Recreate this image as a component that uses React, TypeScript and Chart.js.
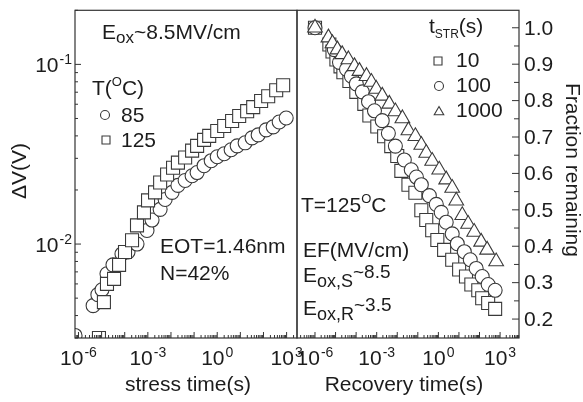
import React, { useEffect, useRef } from 'react';
import { Chart, registerables } from 'chart.js';

Chart.register(...registerables);

const W = 583;
const H = 402;
const FONT = '"Liberation Sans", Arial, Helvetica, sans-serif';
const INK = '#1c1c1c';
const MARK = '#3a3a3a';

// ---- Left panel: stress time (s) vs ΔV (V) ----
const stressTime85 = [7.1e-7, 4.3e-6, 6.9e-6, 1.04e-5, 1.71e-5, 3.1e-5, 7.6e-5, 1.39e-4, 3.4e-4, 9.2e-4, 1.52e-3, 3.4e-3, 5.6e-3, 1.12e-2, 2.0e-2, 4.1e-2, 8.2e-2, 0.135, 0.27, 0.55, 1.0, 2.0, 4.0, 7.3, 16.1, 32, 59, 131, 263, 479, 960];
const deltaV85 = [0.0031, 0.00454, 0.00523, 0.00557, 0.00683, 0.00766, 0.00881, 0.00903, 0.0100, 0.0119, 0.0136, 0.0156, 0.0177, 0.0194, 0.0212, 0.0226, 0.0240, 0.0250, 0.0273, 0.0291, 0.0306, 0.0318, 0.0335, 0.0352, 0.0366, 0.0390, 0.0405, 0.0432, 0.0449, 0.0478, 0.0503];
const stressTime125 = [7.7e-6, 1.26e-5, 1.71e-5, 3.45e-5, 5.7e-5, 1.03e-4, 2.07e-4, 3.4e-4, 6.8e-4, 1.02e-3, 2.05e-3, 3.4e-3, 6.8e-3, 1.23e-2, 2.0e-2, 4.1e-2, 8.2e-2, 0.135, 0.27, 0.45, 1.0, 2.0, 4.4, 8.9, 19.7, 36, 79, 160, 355, 710];
const deltaV125 = [0.0030, 0.00475, 0.0060, 0.0064, 0.00766, 0.00903, 0.0105, 0.0127, 0.0150, 0.0175, 0.0194, 0.0220, 0.0244, 0.0266, 0.0284, 0.0303, 0.0331, 0.0352, 0.0380, 0.0400, 0.0426, 0.0454, 0.0484, 0.0516, 0.0549, 0.0578, 0.0625, 0.0665, 0.0718, 0.0766];

// ---- Right panel: recovery time (s) vs fraction remaining ----
const recTime10 = [1e-6, 5e-6, 7.1e-6, 1.1e-5, 1.74e-5, 2.4e-5, 4.7e-5, 1.02e-4, 2.5e-4, 4.4e-4, 1.07e-3, 2.3e-3, 5.1e-3, 1e-2, 1.58e-2, 3.5e-2, 7.6e-2, 0.148, 0.257, 0.50, 0.89, 1.9, 4.7, 10.2, 22, 40, 87, 135, 263, 575];
const frac10 = [1.0, 0.954, 0.935, 0.913, 0.894, 0.878, 0.854, 0.824, 0.791, 0.759, 0.729, 0.702, 0.675, 0.648, 0.607, 0.569, 0.547, 0.499, 0.472, 0.444, 0.417, 0.390, 0.363, 0.336, 0.317, 0.295, 0.279, 0.257, 0.244, 0.228];
const recTime100 = [1e-6, 8.7e-6, 1.55e-5, 3.4e-5, 5.9e-5, 1.02e-4, 2.0e-4, 4.0e-4, 7.8e-4, 1.86e-3, 3.7e-3, 8.1e-3, 2.2e-2, 4.8e-2, 8.5e-2, 0.148, 0.363, 0.79, 1.38, 2.4, 4.7, 8.3, 18.2, 35.5, 69, 135, 263, 575];
const frac100 = [1.0, 0.940, 0.905, 0.886, 0.867, 0.846, 0.824, 0.797, 0.772, 0.745, 0.710, 0.675, 0.637, 0.610, 0.590, 0.569, 0.539, 0.515, 0.493, 0.466, 0.434, 0.407, 0.385, 0.363, 0.339, 0.317, 0.295, 0.279];
const recTime1000 = [1e-6, 4.5e-6, 7.1e-6, 1.23e-5, 2.1e-5, 4.2e-5, 8.3e-5, 1.45e-4, 3.2e-4, 5.5e-4, 9.5e-4, 1.86e-3, 4.1e-3, 8.1e-3, 1.78e-2, 3.5e-2, 7.6e-2, 0.148, 0.257, 0.50, 1.1, 2.4, 4.7, 7.4, 14.5, 28, 55, 120, 234, 645];
const frac1000 = [1.0, 0.973, 0.957, 0.940, 0.927, 0.913, 0.894, 0.881, 0.867, 0.851, 0.832, 0.813, 0.791, 0.770, 0.751, 0.718, 0.702, 0.678, 0.656, 0.634, 0.610, 0.583, 0.560, 0.525, 0.485, 0.461, 0.439, 0.412, 0.390, 0.358];

// ---- tick labels ----
const xTickExps = [-6, -3, 0, 3];
const leftYTickExps = [-2, -1];
const rightYTicks = [0.2, 0.3, 0.4, 0.5, 0.6, 0.7, 0.8, 0.9, 1.0];

type Seg = { t: string; size?: number; dy?: number };

function drawRich(ctx: CanvasRenderingContext2D, x: number, y: number, segs: Seg[], base = 21) {
  let cx = x;
  for (const s of segs) {
    const size = s.size ?? base;
    ctx.font = `${size}px ${FONT}`;
    ctx.fillText(s.t, cx, y + (s.dy ?? 0));
    cx += ctx.measureText(s.t).width;
  }
}

function drawMarker(ctx: CanvasRenderingContext2D, style: string, x: number, y: number, r: number) {
  ctx.beginPath();
  if (style === 'circle') ctx.arc(x, y, r, 0, Math.PI * 2);
  else if (style === 'rect') ctx.rect(x - r, y - r, 2 * r, 2 * r);
  else {
    ctx.moveTo(x, y - r);
    ctx.lineTo(x + r * 0.866, y + r * 0.5);
    ctx.lineTo(x - r * 0.866, y + r * 0.5);
    ctx.closePath();
  }
  ctx.fillStyle = '#fff';
  ctx.fill();
  ctx.strokeStyle = MARK;
  ctx.lineWidth = 1.1;
  ctx.stroke();
}

function expStr(e: number) {
  return e < 0 ? '-' + String(-e) : String(e);
}

function logTicks(min: number, max: number) {
  const out: { v: number; major: boolean }[] = [];
  const lo = Math.floor(Math.log10(min));
  const hi = Math.ceil(Math.log10(max));
  for (let k = lo; k <= hi; k++) {
    for (let m = 1; m <= 9; m++) {
      const v = m * Math.pow(10, k);
      if (v < min * 0.9999 || v > max * 1.0001) continue;
      out.push({ v, major: m === 1 });
    }
  }
  return out;
}

type Spec = {
  side: 'left' | 'right';
  draw: (ctx: CanvasRenderingContext2D) => void;
  xTitle: string;
  xTitleX: number;
};

function makeDecor(spec: Spec) {
  return {
    id: 'decor_' + spec.side,
    afterDatasetsDraw(chart: any) {
      const ctx: CanvasRenderingContext2D = chart.ctx;
      const a = chart.chartArea;
      const xs = chart.scales.x;
      const ys = chart.scales.y;
      ctx.save();
      // border
      ctx.strokeStyle = '#333';
      ctx.lineWidth = 1.2;
      ctx.strokeRect(a.left, a.top, a.right - a.left, a.bottom - a.top);
      // bottom ticks (inward)
      ctx.beginPath();
      for (const t of logTicks(xs.min, xs.max)) {
        const px = xs.getPixelForValue(t.v);
        const len = t.major ? 6 : 3;
        ctx.moveTo(px, a.bottom);
        ctx.lineTo(px, a.bottom - len);
      }
      ctx.lineWidth = 1;
      ctx.stroke();
      // y ticks
      ctx.beginPath();
      if (spec.side === 'left') {
        for (const t of logTicks(ys.min, ys.max)) {
          const py = ys.getPixelForValue(t.v);
          const len = t.major ? 6 : 3;
          ctx.moveTo(a.left, py);
          ctx.lineTo(a.left + len, py);
        }
      } else {
        for (let i = 3; i <= 21; i++) {
          const v = i * 0.05;
          if (v < ys.min || v > ys.max) continue;
          const py = ys.getPixelForValue(v);
          const len = i % 2 === 0 ? 7 : 5;
          ctx.moveTo(a.right, py);
          ctx.lineTo(a.right - len, py);
        }
      }
      ctx.stroke();

      ctx.fillStyle = INK;
      ctx.textAlign = 'left';
      ctx.textBaseline = 'alphabetic';
      // x tick labels
      for (const e of xTickExps) {
        const px = xs.getPixelForValue(Math.pow(10, e));
        const es = expStr(e);
        ctx.font = `21px ${FONT}`;
        const w1 = ctx.measureText('10').width;
        ctx.font = `14px ${FONT}`;
        const w2 = ctx.measureText(es).width;
        const x0 = px - (w1 + w2 + 1) / 2;
        ctx.font = `21px ${FONT}`;
        ctx.fillText('10', x0, a.bottom + 27);
        ctx.font = `14px ${FONT}`;
        ctx.fillText(es, x0 + w1 + 1, a.bottom + 19);
      }
      // y tick labels
      if (spec.side === 'left') {
        for (const e of leftYTickExps) {
          const py = ys.getPixelForValue(Math.pow(10, e));
          const es = expStr(e);
          ctx.font = `21px ${FONT}`;
          const w1 = ctx.measureText('10').width;
          ctx.font = `14px ${FONT}`;
          const w2 = ctx.measureText(es).width;
          const x0 = a.left - 3 - (w1 + w2 + 1);
          ctx.font = `21px ${FONT}`;
          ctx.fillText('10', x0, py + 7.5);
          ctx.font = `14px ${FONT}`;
          ctx.fillText(es, x0 + w1 + 1, py - 0.5);
        }
      } else {
        ctx.font = `21px ${FONT}`;
        ctx.textBaseline = 'middle';
        for (const v of rightYTicks) {
          const py = ys.getPixelForValue(v);
          ctx.fillText(v.toFixed(1), a.right + 5, py + 1);
        }
        ctx.textBaseline = 'alphabetic';
      }
      // x title
      ctx.font = `21px ${FONT}`;
      ctx.textAlign = 'center';
      ctx.fillText(spec.xTitle, spec.xTitleX, 391);
      ctx.textAlign = 'left';
      spec.draw(ctx);
      ctx.restore();
    },
  };
}

function pts(xs: number[], ys: number[]) {
  return xs.map((x, i) => ({ x, y: ys[i] }));
}

function ds(label: string, data: any[], style: string, r: number) {
  return {
    label,
    data,
    pointStyle: style,
    pointRadius: r,
    pointHoverRadius: r,
    pointBorderWidth: 1.1,
    pointBorderColor: MARK,
    pointBackgroundColor: '#fff',
    showLine: false,
    clip: 0,
  };
}

export default function App() {
  const leftRef = useRef<HTMLCanvasElement>(null);
  const rightRef = useRef<HTMLCanvasElement>(null);

  useEffect(() => {
    const leftDecor = makeDecor({
      side: 'left',
      xTitle: 'stress time(s)',
      xTitleX: 188,
      draw: (ctx) => {
        ctx.fillStyle = INK;
        drawRich(ctx, 102, 39, [{ t: 'E' }, { t: 'ox', size: 17, dy: 4 }, { t: '~8.5MV/cm' }]);
        drawRich(ctx, 92, 95, [{ t: 'T(' }, { t: 'O', size: 13, dy: -9 }, { t: 'C)' }]);
        drawMarker(ctx, 'circle', 105, 115, 4.5);
        drawMarker(ctx, 'rect', 106, 140, 4);
        ctx.fillStyle = INK;
        ctx.font = `21px ${FONT}`;
        ctx.fillText('85', 121, 122);
        ctx.fillText('125', 121, 147);
        ctx.fillText('EOT=1.46nm', 160, 253);
        ctx.fillText('N=42%', 160, 280);
        ctx.save();
        ctx.translate(26, 171);
        ctx.rotate(-Math.PI / 2);
        ctx.textAlign = 'center';
        ctx.fillText('\u0394V(V)', 0, 0);
        ctx.restore();
      },
    });
    const rightDecor = makeDecor({
      side: 'right',
      xTitle: 'Recovery time(s)',
      xTitleX: 404,
      draw: (ctx) => {
        ctx.fillStyle = INK;
        drawRich(ctx, 429, 33, [{ t: 't' }, { t: 'STR', size: 12, dy: 5 }, { t: '(s)' }]);
        drawMarker(ctx, 'rect', 438, 61, 4);
        drawMarker(ctx, 'circle', 439, 86, 4.5);
        drawMarker(ctx, 'triangle', 439, 112, 5.5);
        ctx.fillStyle = INK;
        ctx.font = `21px ${FONT}`;
        ctx.fillText('10', 456, 67);
        ctx.fillText('100', 456, 92);
        ctx.fillText('1000', 456, 117);
        drawRich(ctx, 301, 212, [{ t: 'T=125' }, { t: 'O', size: 13, dy: -9 }, { t: 'C' }]);
        ctx.font = `21px ${FONT}`;
        ctx.fillText('EF(MV/cm)', 303, 257);
        drawRich(ctx, 303, 282, [{ t: 'E' }, { t: 'ox,S', size: 18, dy: 5 }, { t: '~8.5', size: 19, dy: -4 }]);
        drawRich(ctx, 303, 315, [{ t: 'E' }, { t: 'ox,R', size: 18, dy: 5 }, { t: '~3.5', size: 19, dy: -4 }]);
        ctx.save();
        ctx.font = `21px ${FONT}`;
        ctx.translate(566, 170);
        ctx.rotate(Math.PI / 2);
        ctx.textAlign = 'center';
        ctx.fillText('Fraction remaining', 0, 0);
        ctx.restore();
      },
    });

    const common = {
      animation: false as const,
      responsive: false,
      devicePixelRatio: 1,
      events: [] as any[],
      plugins: { legend: { display: false }, tooltip: { enabled: false } },
    };

    const left = new Chart(leftRef.current!, {
      type: 'scatter',
      data: {
        datasets: [
          ds('125', pts(stressTime125, deltaV125), 'rect', 9.2),
          ds('85', pts(stressTime85, deltaV85), 'circle', 7),
        ],
      },
      options: {
        ...common,
        layout: { padding: { left: 75, right: W - 297, top: 5, bottom: H - 338 } },
        scales: {
          x: { type: 'logarithmic', min: Math.pow(10, -6.15), max: Math.pow(10, 3.45), display: false },
          y: { type: 'logarithmic', min: 0.003, max: 0.2, display: false },
        },
      },
      plugins: [leftDecor],
    } as any);

    const right = new Chart(rightRef.current!, {
      type: 'scatter',
      data: {
        datasets: [
          ds('1000', pts(recTime1000, frac1000), 'triangle', 8.5),
          ds('100', pts(recTime100, frac100), 'circle', 7),
          ds('10', pts(recTime10, frac10), 'rect', 9.2),
        ],
      },
      options: {
        ...common,
        layout: { padding: { left: 297, right: W - 519, top: 5, bottom: H - 338 } },
        scales: {
          x: { type: 'logarithmic', min: Math.pow(10, -6.875), max: Math.pow(10, 3.92), display: false },
          y: { type: 'linear', min: 0.148, max: 1.048, display: false },
        },
      },
      plugins: [rightDecor],
    } as any);

    return () => {
      left.destroy();
      right.destroy();
    };
  }, []);

  return (
    <div style={{ position: 'fixed', left: 0, top: 0, width: W, height: H, background: '#fff' }}>
      <canvas ref={leftRef} width={W} height={H} style={{ position: 'absolute', left: 0, top: 0 }} />
      <canvas ref={rightRef} width={W} height={H} style={{ position: 'absolute', left: 0, top: 0 }} />
    </div>
  );
}
